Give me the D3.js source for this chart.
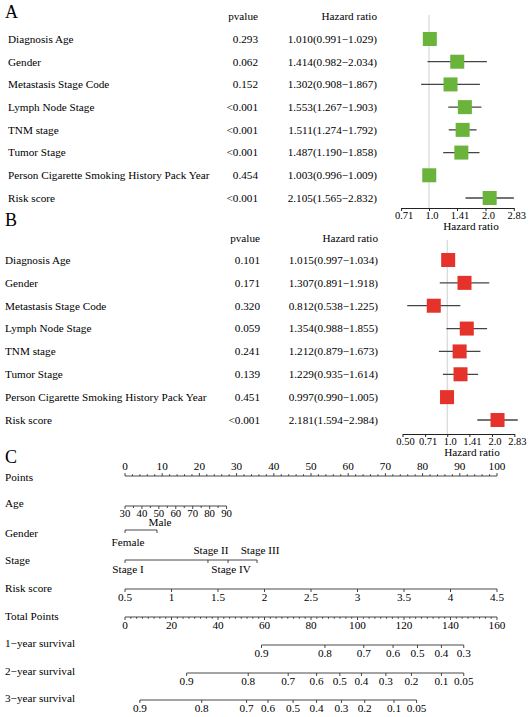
<!DOCTYPE html>
<html><head><meta charset="utf-8">
<script src="https://cdn.jsdelivr.net/npm/d3@7"></script>
<style>
body{margin:0;background:#fff;}
svg text{font-family:"Liberation Serif","Times New Roman",serif;fill:#000;}
</style></head><body>
<svg id="c" width="532" height="717"></svg>
<script>
// ---------- DATA ----------
const variables = ["Diagnosis Age","Gender","Metastasis Stage Code","Lymph Node Stage","TNM stage","Tumor Stage","Person Cigarette Smoking History Pack Year","Risk score"];
const uniP  = ["0.293","0.062","0.152","<0.001","<0.001","<0.001","0.454","<0.001"];
const uniHR = [1.010,1.414,1.302,1.553,1.511,1.487,1.003,2.105];
const uniLo = [0.991,0.982,0.908,1.267,1.274,1.190,0.996,1.565];
const uniHi = [1.029,2.034,1.867,1.903,1.792,1.858,1.009,2.832];
const multiP  = ["0.101","0.171","0.320","0.059","0.241","0.139","0.451","<0.001"];
const multiHR = [1.015,1.307,0.812,1.354,1.212,1.229,0.997,2.181];
const multiLo = [0.997,0.891,0.538,0.988,0.879,0.935,0.990,1.594];
const multiHi = [1.034,1.918,1.225,1.855,1.673,1.614,1.005,2.984];
const uniTicks = [0.71,1.0,1.41,2.0,2.83];
const uniTickLabels = ["0.71","1.0","1.41","2.0","2.83"];
const multiTicks = [0.50,0.71,1.0,1.41,2.0,2.83];
const multiTickLabels = ["0.50","0.71","1.0","1.41","2.0","2.83"];

// nomogram
const pointsTicks = [0,10,20,30,40,50,60,70,80,90,100];
const ageTicks = [30,40,50,60,70,80,90];
const ageRange = [30,90], agePoints = [0,27.3];
const genderLevels = ["Female","Male"], genderPoints = [0,8.6];
const stageLevels = ["Stage I","Stage II","Stage IV","Stage III"], stagePoints = [0,22.3,27.7,35.5];
const riskTicks = [0.5,1,1.5,2,2.5,3,3.5,4,4.5];
const riskRange = [0.5,4.5], riskPoints = [0,100];
const totalTicks = [0,20,40,60,80,100,120,140,160];
const surv1Labels = ["0.9","0.8","0.7","0.6","0.5","0.4","0.3"];
const surv1Total  = [58.7,86.0,102.7,115.3,125.8,136.1,145.7];
const surv2Labels = ["0.9","0.8","0.7","0.6","0.5","0.4","0.3","0.2","0.1","0.05"];
const surv2Total  = [26.5,53.0,70.2,82.4,92.4,101.7,112.2,123.2,136.1,145.7];
const surv3Labels = ["0.9","0.8","0.7","0.6","0.5","0.4","0.3","0.2","0.1","0.05"];
const surv3Total  = [6.4,33.0,52.3,61.5,72.3,82.4,93.1,103.1,115.7,125.4];

// ---------- DRAW ----------
const svg = d3.select("#c");
const FS = 11.2;
const LINE = "#444";

function panelLetter(t, x, y){
  svg.append("text").attr("x",x).attr("y",y).attr("font-size",18).text(t);
}

function forest(cfg){
  const g = svg.append("g");
  const y = d3.scalePoint().domain(variables).range(cfg.rowRange);
  const x = d3.scaleLog().base(2).domain(cfg.domain).range(cfg.xRange);
  g.append("text").attr("x",cfg.pRight).attr("y",cfg.headY).attr("dy","0.35em")
    .attr("text-anchor","end").attr("font-size",FS).text("pvalue");
  g.append("text").attr("x",cfg.hrRight).attr("y",cfg.headY).attr("dy","0.35em")
    .attr("text-anchor","end").attr("font-size",FS).text("Hazard ratio");
  variables.forEach((v,i)=>{
    const yy = y(v);
    g.append("text").attr("x",cfg.labelX).attr("y",yy).attr("dy","0.35em").attr("font-size",FS).text(v);
    g.append("text").attr("x",cfg.pRight).attr("y",yy).attr("dy","0.35em").attr("text-anchor","end").attr("font-size",FS).text(cfg.p[i]);
    g.append("text").attr("x",cfg.hrRight).attr("y",yy).attr("dy","0.35em").attr("text-anchor","end").attr("font-size",FS)
      .text(cfg.hr[i].toFixed(3)+"("+cfg.lo[i].toFixed(3)+"\u2212"+cfg.hi[i].toFixed(3)+")");
  });
  g.append("line").attr("x1",x(1)).attr("x2",x(1)).attr("y1",cfg.refTop).attr("y2",cfg.axisY)
    .attr("stroke","#cfcfcf").attr("stroke-width",1);
  variables.forEach((v,i)=>{
    const yy = y(v);
    g.append("line").attr("x1",x(cfg.lo[i])).attr("x2",x(cfg.hi[i])).attr("y1",yy).attr("y2",yy)
      .attr("stroke",LINE).attr("stroke-width",1.3);
    const s = 14;
    g.append("rect").attr("x",x(cfg.hr[i])-s/2).attr("y",yy-s/2).attr("width",s).attr("height",s)
      .attr("fill",cfg.color);
  });
  const ax = d3.axisBottom(x).tickValues(cfg.ticks).tickFormat((d,i)=>cfg.tickLabels[i]).tickSize(3).tickSizeOuter(0);
  const axg = g.append("g").attr("transform",`translate(0,${cfg.axisY})`).call(ax);
  axg.select(".domain").attr("stroke","#222");
  axg.selectAll(".tick line").attr("stroke","#222");
  axg.selectAll(".tick text").style("font-size","10.5px").attr("fill","#000").attr("dx",2.5).attr("y",3.5);
  g.append("text").attr("x",cfg.titleX).attr("y",cfg.axisY+18.5).attr("dy","0.35em").attr("text-anchor","middle").attr("font-size",FS).text("Hazard ratio");
}

panelLetter("A",5,18);
forest({rowRange:[39,198],domain:[Math.pow(2,-0.5),Math.pow(2,1.5)],xRange:[400.75,513.75],
  headY:16,pRight:258,hrRight:377,labelX:8,refTop:15,axisY:208,titleX:471,
  p:uniP,hr:uniHR,lo:uniLo,hi:uniHi,ticks:uniTicks,tickLabels:uniTickLabels,color:"#6ab43c"});

panelLetter("B",5,226);
forest({rowRange:[260,420],domain:[0.5,Math.pow(2,1.5)],xRange:[402.5,514.3],
  headY:238,pRight:260,hrRight:378,labelX:5,refTop:240,axisY:434,titleX:472,
  p:multiP,hr:multiHR,lo:multiLo,hi:multiHi,ticks:multiTicks,tickLabels:multiTickLabels,color:"#e5322a"});

// ---------- NOMOGRAM ----------
panelLetter("C",5,463);
const gN = svg.append("g");
const xPts = d3.scaleLinear().domain([0,100]).range([125,497]);
const xTot = d3.scaleLinear().domain([0,160]).range([125,497]);
const NL = "#333";

function rowLabel(t,y){
  gN.append("text").attr("x",5).attr("y",y).attr("dy","0.35em").attr("font-size",FS).text(t);
}
function hline(x1,x2,y){
  gN.append("line").attr("x1",x1).attr("x2",x2).attr("y1",y).attr("y2",y).attr("stroke",NL).attr("stroke-width",0.9);
}
function tick(x,y,len){
  gN.append("line").attr("x1",x).attr("x2",x).attr("y1",y).attr("y2",y+len).attr("stroke",NL).attr("stroke-width",0.9);
}
function lab(t,x,y,fs){
  gN.append("text").attr("x",x).attr("y",y).attr("dy","0.35em").attr("text-anchor","middle").attr("font-size",fs||FS).text(t);
}

rowLabel("Points",477);
hline(xPts(0),xPts(100),476);
d3.range(0,101,2).forEach(v=>tick(xPts(v),476,v%10===0?-3:-1.8));
pointsTicks.forEach(v=>lab(v,xPts(v),466));

rowLabel("Age",503);
const ageToPts = d3.scaleLinear().domain(ageRange).range(agePoints);
hline(xPts(ageToPts(30)),xPts(ageToPts(90)),506);
d3.range(30,91,5).forEach(v=>tick(xPts(ageToPts(v)),506,v%10===0?3:2));
ageTicks.forEach(v=>lab(v,xPts(ageToPts(v)),513,10.8));

function catRow(levels,pts,y,upY,downY){
  hline(xPts(d3.min(pts)),xPts(d3.max(pts)),y);
  const order = d3.range(levels.length).sort((a,b)=>pts[a]-pts[b]);
  order.forEach((k,j)=>{
    tick(xPts(pts[k]),y,3);
    lab(levels[k],xPts(pts[k])+3,j%2===0?downY:upY);
  });
}
rowLabel("Gender",533);
catRow(genderLevels,genderPoints,530,522.5,542);
rowLabel("Stage",560);
catRow(stageLevels,stagePoints,560,550,569);

rowLabel("Risk score",588);
const riskToPts = d3.scaleLinear().domain(riskRange).range(riskPoints);
hline(xPts(riskToPts(0.5)),xPts(riskToPts(4.5)),589);
riskTicks.forEach(v=>{tick(xPts(riskToPts(v)),589,3);lab(v,xPts(riskToPts(v)),597.5);});

rowLabel("Total Points",616);
hline(xTot(0),xTot(160),617);
d3.range(0,161,2.5).forEach(v=>tick(xTot(v),617,v%20===0?3:1.8));
totalTicks.forEach(v=>lab(v,xTot(v),625.5));

function survRow(name,labels,tots,y){
  rowLabel(name,y-2);
  hline(xTot(d3.min(tots)),xTot(d3.max(tots)),y);
  tots.forEach((t,i)=>{tick(xTot(t),y,3);lab(labels[i],xTot(t),y+8.5);});
}
survRow("1\u2212year survival",surv1Labels,surv1Total,645);
survRow("2\u2212year survival",surv2Labels,surv2Total,673);
survRow("3\u2212year survival",surv3Labels,surv3Total,700);
</script>
</body></html>
